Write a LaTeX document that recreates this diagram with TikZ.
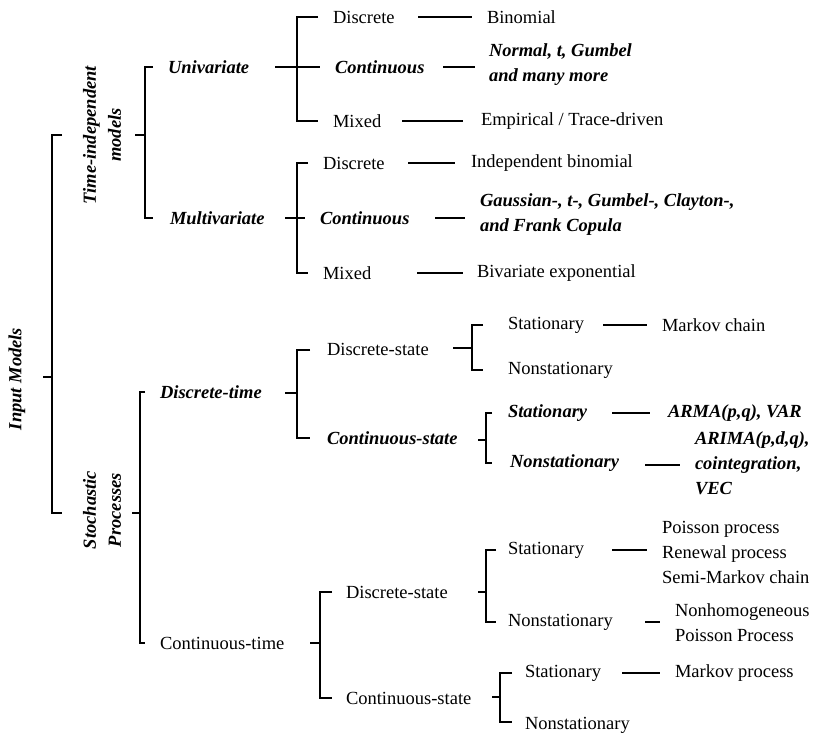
\documentclass[tikz,border=0pt]{standalone}
\usepackage{fontspec}
\setmainfont{Liberation Serif}
\begin{document}
\begin{tikzpicture}[x=1pt,y=-1pt,
  every node/.style={inner sep=0pt,outer sep=0pt,font=\fontsize{18.5}{25}\selectfont},
  lbl/.style={anchor=west,align=left},
  bi/.style={anchor=west,align=left,font=\fontsize{18.5}{25}\selectfont\bfseries\itshape},
  rot/.style={rotate=90,align=center,font=\fontsize{18.5}{25}\selectfont\bfseries\itshape},
  ln/.style={line width=1.8pt,line cap=butt,line join=miter}]
\useasboundingbox (0,0) rectangle (821,737);

% rotated labels
\node[rot] (im) at (17,379) {Input Models};
\node[rot] (ti) at (102,135) {Time-independent\\models};
\node[rot] (sp) at (102,510) {Stochastic\\Processes};

% level 2
\node[bi] (uni) at (168,67) {Univariate};
\node[bi] (mul) at (170,218) {Multivariate};
\node[bi] (dt) at (160,392) {Discrete-time};
\node[lbl] (ct) at (160,643) {Continuous-time};

% univariate
\node[lbl] (ud) at (333,17) {Discrete};
\node[lbl] (udl) at (487,17) {Binomial};
\node[bi] (uc) at (335,67) {Continuous};
\node[bi] (ucl) at (489,65) {Normal, t, Gumbel\\and many more};
\node[lbl] (um) at (333,121) {Mixed};
\node[lbl] (uml) at (481,121) {Empirical / Trace-driven};

% multivariate
\node[lbl] (md) at (323,163) {Discrete};
\node[lbl] (mdl) at (471,163) {Independent binomial};
\node[bi] (mc) at (320,218) {Continuous};
\node[bi] (mcl) at (480,215) {Gaussian-, t-, Gumbel-, Clayton-,\\and Frank Copula};
\node[lbl] (mm) at (323,273) {Mixed};
\node[lbl] (mml) at (477,273) {Bivariate exponential};

% discrete-time
\node[lbl] (dds) at (327,349) {Discrete-state};
\node[lbl] (ddss) at (508,325) {Stationary};
\node[lbl] (ddssl) at (662,325) {Markov chain};
\node[lbl] (ddsn) at (508,370) {Nonstationary};
\node[bi] (dcs) at (327,438) {Continuous-state};
\node[bi] (dcss) at (508,413) {Stationary};
\node[bi] (dcssl) at (668,413) {ARMA(p,q), VAR};
\node[bi] (dcsn) at (510,463) {Nonstationary};
\node[bi] (dcsnl) at (695,463) {ARIMA(p,d,q),\\cointegration,\\VEC};

% continuous-time
\node[lbl] (cds) at (346,592) {Discrete-state};
\node[lbl] (cdss) at (508,550) {Stationary};
\node[lbl] (cdssl) at (662,552) {Poisson process\\Renewal process\\Semi-Markov chain};
\node[lbl] (cdsn) at (508,622) {Nonstationary};
\node[lbl] (cdsnl) at (675,623) {Nonhomogeneous\\Poisson Process};
\node[lbl] (ccs) at (346,698) {Continuous-state};
\node[lbl] (ccss) at (525,673) {Stationary};
\node[lbl] (ccssl) at (675,673) {Markov process};
\node[lbl] (ccsn) at (525,725) {Nonstationary};

% brackets
\draw[ln] (43,377) -- (52,377);
\draw[ln] (62,135) -- (52,135) -- (52,513) -- (62,513);

\draw[ln] (135,135) -- (145,135);
\draw[ln] (153,67) -- (145,67) -- (145,218) -- (153,218);

\draw[ln] (132,513) -- (140,513);
\draw[ln] (145,392) -- (140,392) -- (140,643) -- (145,643);

\draw[ln] (275,67) -- (320,67);
\draw[ln] (318,17) -- (297,17) -- (297,121) -- (318,121);

\draw[ln] (285,218) -- (305,218);
\draw[ln] (308,163) -- (297,163) -- (297,273) -- (308,273);

\draw[ln] (285,393) -- (297,393);
\draw[ln] (310,350) -- (297,350) -- (297,438) -- (310,438);

\draw[ln] (453,348) -- (472,348);
\draw[ln] (483,325) -- (472,325) -- (472,370) -- (483,370);

\draw[ln] (478,440) -- (486,440);
\draw[ln] (492,413) -- (486,413) -- (486,463) -- (492,463);

\draw[ln] (310,643) -- (320,643);
\draw[ln] (332,592) -- (320,592) -- (320,698) -- (332,698);

\draw[ln] (478,592) -- (486,592);
\draw[ln] (496,550) -- (486,550) -- (486,622) -- (496,622);

\draw[ln] (492,697) -- (500,697);
\draw[ln] (512,673) -- (500,673) -- (500,722) -- (512,722);

% leaf connectors
\draw[ln] (418,17) -- (472,17);
\draw[ln] (443,67) -- (475,67);
\draw[ln] (402,121) -- (463,121);
\draw[ln] (408,163) -- (455,163);
\draw[ln] (435,218) -- (465,218);
\draw[ln] (417,273) -- (463,273);
\draw[ln] (603,325) -- (647,325);
\draw[ln] (612,413) -- (650,413);
\draw[ln] (645,465) -- (680,465);
\draw[ln] (612,550) -- (647,550);
\draw[ln] (645,622) -- (660,622);
\draw[ln] (622,673) -- (660,673);
\end{tikzpicture}
\end{document}
